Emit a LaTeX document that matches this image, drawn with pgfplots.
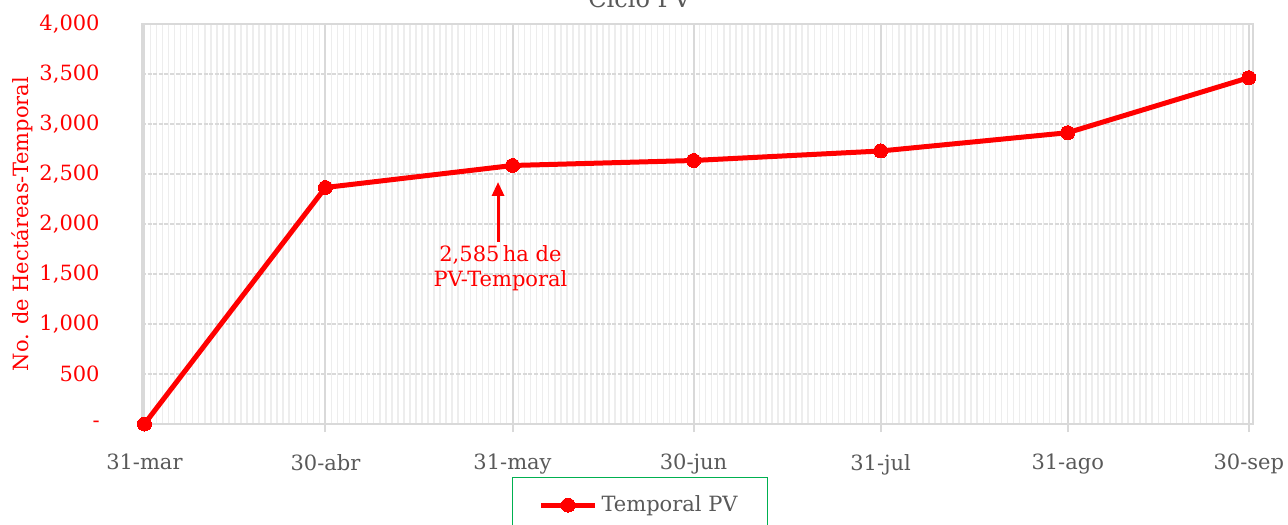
\documentclass[border=0pt]{standalone}
\usepackage{pgfplots}
\pgfplotsset{compat=1.18}
\usepackage{fontspec}
\setmainfont{DejaVu Serif}
\usetikzlibrary{arrows.meta}
\definecolor{txtgray}{HTML}{595959}
\definecolor{gridgray}{HTML}{D9D9D9}
\definecolor{minorgray}{HTML}{EDEDED}
\definecolor{lgreen}{HTML}{00B050}
\definecolor{pvred}{HTML}{FF0000}
\begin{document}
\begin{tikzpicture}
\fontsize{10.5}{12.5}\selectfont
\begin{axis}[
  scale only axis,
  width=555.5pt, height=200pt,
  xmin=-0.4, xmax=183.7,
  ymin=0, ymax=4000,
  xtick={0,30,61,91,122,153,183},
  xticklabels={31-mar,30-abr,31-may,30-jun,31-jul,31-ago,30-sep},
  minor xtick={1,...,182},
  ytick={0,500,1000,1500,2000,2500,3000,3500,4000},
  yticklabels={-,500,{1,000},{1,500},{2,000},{2,500},{3,000},{3,500},{4,000}},
  xmajorgrids, xminorgrids, ymajorgrids,
  major x grid style={draw=gridgray, line width=1pt},
  minor x grid style={draw=minorgray, line width=0.75pt},
  major y grid style={draw=gridgray, line width=1pt, dash pattern=on 2pt off 0.8pt},
  axis line style={draw=gridgray, line width=1pt},
  tick pos=left,
  tick align=outside,
  major tick length=4pt,
  minor tick length=0pt,
  xtick style={draw=gridgray, line width=1pt},
  ytick style={draw=none},
  xticklabel style={text=txtgray, font=\fontsize{10.5}{12.5}\selectfont, yshift=-7.5pt},
  yticklabel style={text=pvred, font=\fontsize{10.5}{12.5}\selectfont, xshift=-13.5pt},
  ylabel={No. de Hectáreas-Temporal},
  every axis y label/.style={at={(axis description cs:-0.108,0.5)}, rotate=90, anchor=center, text=pvred, font=\fontsize{10.5}{12.5}\selectfont},
  legend style={at={(axis description cs:0.333,-0.1325)}, anchor=north west, draw=lgreen, line width=0.6pt, text=txtgray, font=\fontsize{10.5}{12.5}\selectfont, inner xsep=13pt, inner ysep=7pt},
  legend image code/.code={\draw[mark repeat=2,mark phase=2,#1] plot coordinates {(0pt,0pt) (13.5pt,0pt) (27pt,0pt)};},
  clip=false,
]
\addplot[color=pvred, line width=2.5pt, mark=*, mark size=3.5pt, mark options={solid, fill=pvred, line width=0pt}]
  coordinates {(0,0) (30,2365) (61,2585) (91,2635) (122,2730) (153,2913) (183,3463)};
\addlegendentry{Temporal PV}
\draw[-{Triangle[length=7pt,width=6pt]}, pvred, line width=1.5pt] (axis cs:58.6,1820) -- (axis cs:58.6,2420);
\node[text=pvred, align=center, font=\fontsize{10.5}{12.5}\selectfont] at (axis cs:59,1560) {2,585\,ha de\\PV-Temporal};
\node[text=txtgray, anchor=base, font=\fontsize{12}{14}\selectfont] at (axis description cs:0.448,1) [yshift=8pt] {Ciclo PV};
\end{axis}
\pgfresetboundingbox
\useasboundingbox (-71pt,-50pt) rectangle (573pt,212pt);
\end{tikzpicture}
\end{document}
